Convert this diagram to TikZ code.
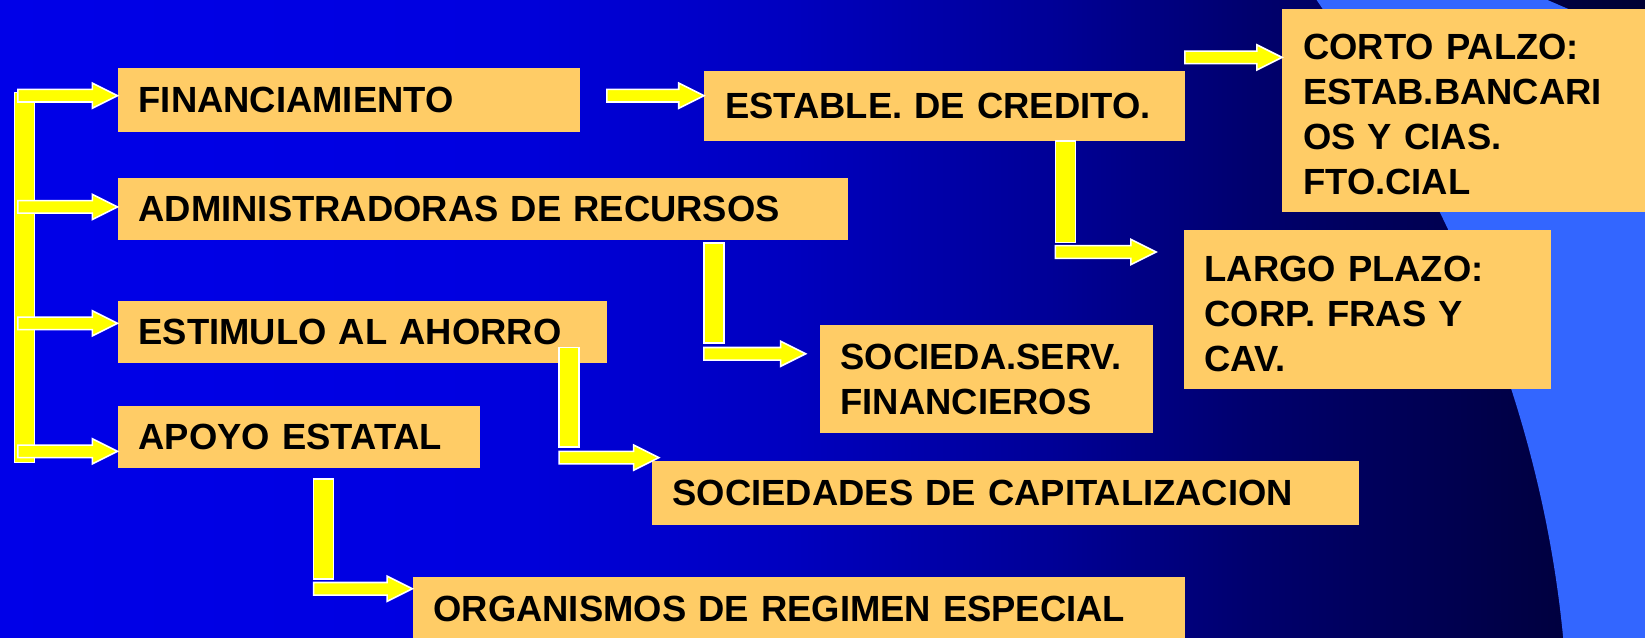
\documentclass[tikz,border=0pt]{standalone}
\usepackage{fontspec}
\setmainfont{Liberation Sans}
\usetikzlibrary{calc}

\definecolor{cajafill}{RGB}{255,204,102}
\definecolor{flechafill}{RGB}{255,255,0}
\definecolor{globo}{RGB}{51,102,255}

% background: bright blue on the left, navy on the right
\pgfdeclarehorizontalshading{fondo}{100bp}{rgb(0bp)=(0,0,0.91); rgb(25bp)=(0,0,0.91);
  rgb(39bp)=(0,0,0.88); rgb(49bp)=(0,0,0.75); rgb(57bp)=(0,0,0.59);
  rgb(63bp)=(0,0,0.43); rgb(75bp)=(0,0,0.2); rgb(100bp)=(0,0,0.2)}

% block arrow: shaft from x of #1 to the tip #2
\newcommand{\flecha}[2]{\path[bloque] let \p1=(#1), \p2=(#2) in
  (\x1,\y2+6pt) -- (\x2-24pt,\y2+6pt) -- (\x2-24pt,\y2+12pt) -- (\x2,\y2)
  -- (\x2-24pt,\y2-12pt) -- (\x2-24pt,\y2-6pt) -- (\x1,\y2-6pt) -- cycle;}
% vertical bar: top left #1, down to the y of #2
\newcommand{\barra}[2]{\path[bloque] let \p1=(#1), \p2=(#2) in
  (\x1,\y1) rectangle (\x1+19pt,\y2);}

\begin{document}
\frenchspacing
\begin{tikzpicture}[x=1pt, y=-1pt,
    caja/.style={fill=cajafill, anchor=north west, align=left, inner xsep=20pt, inner ysep=4pt,
      font=\fontsize{34.7pt}{43pt}\selectfont\bfseries},
    bloque/.style={fill=flechafill, draw=white, line width=1.5pt}]

    % Background
    \useasboundingbox (0,0) rectangle (1568,608);
    \fill[shading=fondo] (0,0) rectangle (1568,608);
    \fill[globo] (1255,0) .. controls (1390,200) and (1470,400) .. (1490,608)
        -- (1568,608) -- (1568,40) -- (1475,0) -- cycle;

    % Boxes
    \node[caja, text width=401pt, minimum height=61pt] (fin) at (112,65) {FINANCIAMIENTO};
    \node[caja, text width=656pt, minimum height=60pt] (adm) at (112,169) {ADMINISTRADORAS DE RECURSOS};
    \node[caja, text width=426pt, minimum height=59pt] (est) at (112,287) {ESTIMULO AL AHORRO};
    \node[caja, text width=305pt, minimum height=59pt] (apo) at (112,387) {APOYO ESTATAL};
    \node[caja, text width=418pt, minimum height=67pt] (cred) at (671,67) {ESTABLE. DE CREDITO.};
    \node[caja, text width=306pt, minimum height=194pt, text height=32pt] (corto) at (1222,8)
        {CORTO PALZO:\\ESTAB.BANCARI\\OS Y CIAS.\\FTO.CIAL};
    \node[caja, text width=310pt, minimum height=152pt, text height=32pt] (largo) at (1128,219)
        {LARGO PLAZO:\\CORP. FRAS Y\\CAV.};
    \node[caja, text width=278pt, minimum height=103pt] (serv) at (781,310) {SOCIEDA.SERV.\\FINANCIEROS};
    \node[caja, text width=634pt, minimum height=61pt] (capit) at (621,439) {SOCIEDADES DE CAPITALIZACION};
    \node[caja, text width=696pt, minimum height=60pt] (org) at (393,550) {ORGANISMOS DE REGIMEN ESPECIAL};

    % Connectors
    \coordinate (sp) at (14,88);
    \coordinate (spb) at (14,441);
    \barra{sp}{spb}
    \flecha{[xshift=3pt]sp}{[yshift=4.5pt]fin.west}
    \flecha{[xshift=3pt]sp}{[yshift=2pt]adm.west}
    \flecha{[xshift=3pt]sp}{[yshift=8.5pt]est.west}
    \flecha{[xshift=3pt]sp}{[yshift=-13.5pt]apo.west}

    \flecha{[xshift=25pt]fin.east}{[yshift=9.5pt]cred.west}
    \flecha{cred.east}{[yshift=50.5pt]corto.west}

    \coordinate (c2) at (1006,231);
    \barra{cred.south -| c2}{c2}
    \flecha{c2}{[xshift=-26pt,yshift=55pt]largo.west}

    \coordinate (c3) at (671,327);
    \barra{[yshift=-2pt]adm.south -| c3}{c3}
    \flecha{c3}{[xshift=-13pt,yshift=24.5pt]serv.west}

    \coordinate (c4) at (533,426);
    \barra{[yshift=15pt]est.south -| c4}{c4}
    \flecha{c4}{[xshift=7pt,yshift=33.5pt]capit.west}

    \coordinate (c5) at (299,552);
    \barra{[yshift=-10pt]apo.south -| c5}{c5}
    \flecha{c5}{[yshift=19pt]org.west}

\end{tikzpicture}
\end{document}
